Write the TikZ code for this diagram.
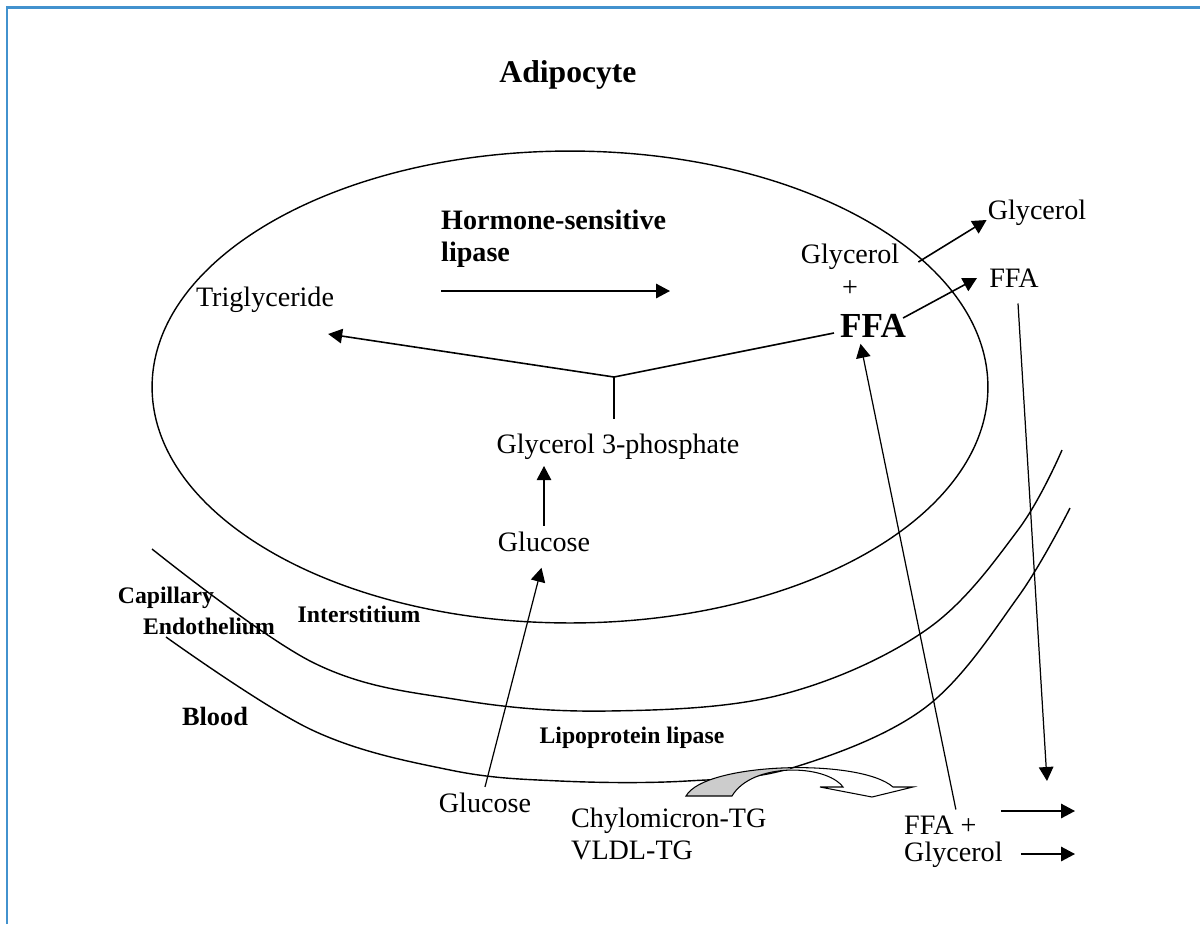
\documentclass[tikz,border=0pt]{standalone}
\usepackage{fontspec}
\setmainfont{Liberation Serif}
\usetikzlibrary{%
  arrows.meta,%
  positioning,%
  calc%
}
\definecolor{framebl}{RGB}{66,146,206}

\begin{document}
\begin{tikzpicture}[
  x=0.02cm, y=-0.02cm,
  font=\fontsize{16}{18}\selectfont,
  >={Triangle[length=2.8mm,width=2.9mm]},
  arr/.style={->, line width=0.9pt},
  wall/.style={line width=0.8pt},
  zone/.style={font=\fontsize{13.5}{15}\selectfont\bfseries},
  enzyme/.style={font=\fontsize{16}{18}\selectfont\bfseries, align=left},
  big/.style={font=\fontsize{20}{24}\selectfont\bfseries}
]
\useasboundingbox (0,0) rectangle (1200,924);
\draw[framebl, line width=1.6pt] (7,924) -- (7,7.5) -- (1200,7.5);

% cell and capillary wall
\draw[wall] (570,387) ellipse [x radius=8.36cm, y radius=4.72cm];
\draw[wall] plot[smooth, tension=0.6] coordinates {(152,549) (314,663) (460,700) (608,711) (780,695) (926,630) (1018,530) (1062,450)};
\draw[wall] plot[smooth, tension=0.6] coordinates {(166,637) (312,730) (450,770) (560,781) (687,781) (795,767) (926,707) (1018,597) (1070,508)};

% lipoprotein lipase action
\begin{scope}
  \clip (600,740) rectangle (790,800);
  \fill[black!20] (686,796) .. controls (705,762) and (860,758) .. (893,787) -- (913,787) -- (872,797) -- (820,787) -- (843,787) .. controls (826,764) and (752,762) .. (732,796) -- cycle;
\end{scope}
\draw[line width=0.6pt] (686,796) .. controls (705,762) and (860,758) .. (893,787) -- (913,787) -- (872,797) -- (820,787) -- (843,787) .. controls (826,764) and (752,762) .. (732,796) -- cycle;

\node[font=\fontsize{18}{20}\selectfont\bfseries] (adipo) at (568,75) {Adipocyte};
\node[enzyme, anchor=west] (hsl) at (435,239) {Hormone-sensitive\\lipase};
\node (tg) at (265,300) {Triglyceride};
\node (glyin) at (850,257) {Glycerol};
\node (plus) at (850,289) {+};
\node[big] (ffain) at (873,326) {FFA};
\node (glyout) at (1037,213) {Glycerol};
\node (ffaout) at (1014,278) {FFA};
\node (g3p) at (618,447) {Glycerol 3-phosphate};
\node (glcin) at (544,542) {Glucose};

\node[zone] (cap) at (166,598) {Capillary};
\node[zone] (endo) at (209,626) {Endothelium};
\node[zone] (inter) at (359,614) {Interstitium};
\node[font=\fontsize{15}{17}\selectfont\bfseries] (blood) at (215,716) {Blood};
\node[zone] (lpl) at (632,738) {Lipoprotein lipase};

\node (glcb) at (485,803) {Glucose};
\node[align=left, anchor=west] (chylo) at (565,834) {Chylomicron-TG\\VLDL-TG};
\node[anchor=west] (ffab) at (898,825) {FFA +};
\node[anchor=west] (glyb) at (898,855) {Glycerol};

\coordinate (hslA) at (441,291);
\coordinate (hslB) at (670,291);
\coordinate (jn) at (614,377);
\coordinate (ffadn) at (1047,781);
\coordinate (ffaR) at (1075,811);
\coordinate (glyR) at (1075,854);

\draw[arr] (hslA) -- (hslB);
\draw[line width=0.9pt] ($(ffain.west)+(0,7)$) -- (jn);
\draw[arr] (jn) -- ($(tg.south east)+(-12,15)$);
\draw[line width=0.6pt, shorten >=1.8mm] (jn) -- (jn |- g3p.north);
\draw[arr, line width=0.6pt] (glcin.north) -- (glcin.north |- g3p.south);
\draw[arr, line width=0.7pt, shorten >=2mm] (glcb.north) -- (glcin.south);

\draw[arr] ($(glyin.east)+(13,5)$) -- ($(glyout.west)+(5,7)$);
\draw[arr] ($(ffain.east)+(-9,-8)$) -- ($(ffaout.west)+(-6,0)$);
\draw[arr, line width=0.7pt] (ffab.45) -- ([xshift=-2.5mm]ffain.south);
\draw[arr, line width=0.7pt] ($(ffaout.south)+(4,10)$) -- (ffadn);
\draw[arr] ($(ffab.east |- ffaR)+(18,0)$) -- (ffaR);
\draw[arr] ($(glyb.east |- glyR)+(12,0)$) -- (glyR);

\end{tikzpicture}
\end{document}
